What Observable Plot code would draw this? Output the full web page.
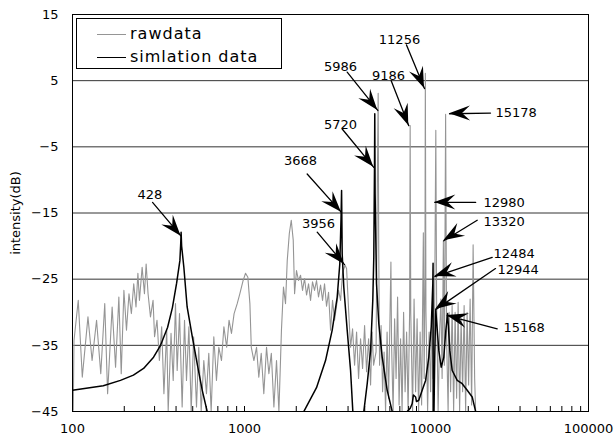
<!DOCTYPE html>
<html><head><meta charset="utf-8">
<script src="https://cdn.jsdelivr.net/npm/d3@7"></script>
<script src="https://cdn.jsdelivr.net/npm/@observablehq/plot@0.6"></script>
<style>
body{margin:0;background:#fff;font-family:"DejaVu Sans",sans-serif;}
#wrap{position:relative;width:615px;height:440px;}
#legend{position:absolute;left:76px;top:18px;width:204px;height:49px;border:1px solid #000;background:#fff;font-size:16px;letter-spacing:1px;}
.row{position:absolute;left:0;height:20px;width:100%;}
.sw{position:absolute;left:20px;width:29px;top:10px;height:0;border-top:1px solid;}
.lab{position:absolute;left:53px;top:-1px;line-height:22px;}
</style></head>
<body><div id="wrap"></div>
<script>
// raw measurement (Hz, dB)
const rawFreq = [101,102,108,114,123,130,138,146,154,160,170,178,186,192,199,206,213,220,227,234,240,245,254,262,268,275,284,294,300,310,320,330,340,353,360,374,385,397,406,419,434,448,460,475,490,506,526,542,560,580,601,620,640,663,687,709,735,759,788,813,840,870,907,940,982,1014,1046,1075,1095,1134,1175,1211,1251,1295,1343,1386,1432,1482,1535,1585,1640,1685,1732,1772,1822,1870,1920,1955,2006,2060,2117,2175,2234,2295,2357,2421,2486,2554,2623,2694,2768,2843,2920,2999,3081,3165,3250,3339,3430,3523,3619,3717,3843,3922,4030,4137,4249,4365,4484,4605,4730,4859,4991,5126,5266,5408,5519,5630,5820,5900,5986,6030,6100,6225,6351,6480,6611,6745,6882,7020,7100,7165,7310,7460,7610,7764,7920,8082,8245,8414,8585,8760,8937,9120,9186,9260,9492,9680,9881,10080,10285,10495,10710,10960,11080,11200,11256,11350,11604,11840,12080,12275,12490,12745,12950,13090,13355,13630,13870,14090,14330,14520,14767,14965,15270,15480,15789,16110,16440,16770,17110,17460,17810,18170,18543,18920,19303,19690,20090,20500,20920,21340,21780,22070];
const rawDb = [-44.8,-34.3,-28.2,-39.8,-30.7,-37.3,-31.2,-39.3,-28.7,-42.3,-29.2,-38.3,-27.7,-39.3,-26.7,-32.7,-27.2,-30.2,-25.7,-29.2,-24.1,-28.2,-23.2,-27.2,-22.7,-27.2,-30.7,-28.2,-33.7,-31.2,-37.3,-32.2,-42.3,-32.7,-45,-33.2,-40.3,-28.7,-38.8,-30.2,-44.3,-31.2,-40.3,-32.2,-45,-33.7,-44.3,-35.3,-45,-37.3,-42.3,-36.2,-45,-33.7,-40.3,-35.3,-37.3,-32.2,-35.3,-31.2,-33.2,-30.2,-28.7,-27.2,-25.2,-24.1,-24.7,-28.7,-35.3,-37.3,-35.3,-39.8,-36.2,-42.3,-35.3,-39.3,-36.2,-44.3,-37.3,-45,-32.7,-26.2,-28.7,-22.2,-18.1,-16.1,-19.1,-27.2,-23.7,-25.2,-24.4,-26.7,-24.9,-27.4,-25.7,-28.2,-25.4,-26.7,-25.2,-27.7,-25.9,-28.2,-25.7,-29.1,-27.0,-32.7,-28.2,-31.2,-29.0,-26.7,-28.2,-24,-22.9,-23.4,-29.7,-35.3,-32.5,-38,-33,-40,-34,-38.5,-32,-39,-34,-41,-33,-38,-36,-15,3.1,-20,-38,-32,-42,-36,-45,-33,-43,-30,-22.4,-35,-45,-31,-40,-27.7,-44,-34,-45,-30,-42,-33,-45,-30,-1.8,-30,-45,-28,-42,-31,-45,-33,-44,-18,-40,-25,6.1,-30,-45,-33,-42,-30,-40,-30,-2.5,-28,-45,-33,-28,-40,-19.2,-38,-0.1,-34,-45,-30,-42,-29,-45,-30,-43,-28.5,-45,-31,-42,-29,-45,-30,-41,-28,-44,-19.8,-40,-45];
// simulation (Hz, dB); null = break below the axis
const simFreq = [100,151,190,226,259,296,325,357,381,403,421,426,428,431,444,464,497,531,568,607,650,null,2213,2622,2959,3235,3459,3581,3640,3668,3698,3778,3954,4137,4264,null,4940,5170,5408,5570,5645,5700,5720,5745,5855,6036,6318,6756,7224,null,8830,9200,9440,9600,9881,10000,10310,10790,11297,11790,12180,12440,12484,12500,12640,12780,12944,13480,13920,14410,14800,15168,15620,16130,17250,18440,19720,21080,22070];
const simDb = [-41.8,-41.1,-40.3,-39.5,-38.5,-36.8,-35,-32.3,-29.3,-25.6,-22.2,-19.5,-17.9,-20,-23.2,-29.2,-33.7,-37.8,-41.8,-45,-48,null,-45,-41.4,-37.3,-32.7,-27.7,-22.7,-16,-11.6,-21.2,-26.2,-32.7,-38.8,-45,null,-45,-40.8,-35.8,-28.2,-21.7,-8,0,-12,-25.7,-31.7,-36.8,-41.8,-45,null,-45,-44.5,-43.8,-42.5,-42.8,-43.5,-43.3,-41.8,-40.3,-36.8,-32.2,-25.7,-22.6,-50,-45,-36,-29.7,-35.8,-38.3,-36.8,-32.8,-30.2,-35.8,-38.8,-40.3,-40.8,-41.8,-42.8,-45];
// annotations
const annLabel  = ["428","3668","3956","5720","5986","9186","11256","15178","12980","13320","12484","12944","15168"];
const annTextF  = [282,2117,2693,3619,3619,6875,7965,28790,24520,24520,28030,29580,32040];
const annTextDb = [-12.3,-7.1,-16.6,-1.6,7.1,5.8,11.2,0.1,-13.4,-16.3,-21.2,-23.6,-32.4];
const annTailF  = [292,2314,2647,3698,3954,7127,8746,26930,22070,22540,27550,28790,29460];
const annTailDb = [-13.4,-9.1,-17.9,-2.3,6.3,5.0,10.4,0.1,-13.4,-16.1,-21.7,-23.4,-32.5];
const annTipF   = [428,3660,3814,5645,5957,9020,11130,15560,12780,14410,12780,12916,15080];
const annTipDb  = [-18.5,-14.9,-22.8,-8.1,0.5,-1.8,3.8,0.0,-13.4,-19.2,-24.6,-29.6,-30.5];
const annSide   = ["middle","middle","middle","middle","middle","middle","middle","start","start","start","start","start","start"];
const yTicks = [-45,-35,-25,-15,-5,5,15];
const gridVals = [-35,-25,-15,-5,5];
const xMajor = [100,1000,100000];
const xMajorShifted = [10000];
const xMinor = [200,300,400,500,600,700,800,900,1000,2000,3000,4000,5000,6000,7000,8000,9000,10000,20000,30000,40000,50000,60000,70000,80000,90000];

const raw = rawFreq.map((f,i)=>({f, db: rawDb[i]}));
const sim = simFreq.map((f,i)=>({f, db: simDb[i]}));
const ann = annLabel.map((t,i)=>({t, tf: annTextF[i], tdb: annTextDb[i], af: annTailF[i], adb: annTailDb[i], bf: annTipF[i], bdb: annTipDb[i], side: annSide[i]}));

function heads(index, scales) {
  const g = d3.create("svg:g");
  for (const a of ann) {
    const x1 = scales.x(a.af), y1 = scales.y(a.adb), x2 = scales.x(a.bf), y2 = scales.y(a.bdb);
    const ang = Math.atan2(y2 - y1, x2 - x1), ux = Math.cos(ang), uy = Math.sin(ang), nx = -uy, ny = ux;
    const L = 21, W = 7.5, N = 0.62;
    const p = [[x2, y2],[x2 - L*ux + W*nx, y2 - L*uy + W*ny],[x2 - N*L*ux, y2 - N*L*uy],[x2 - L*ux - W*nx, y2 - L*uy - W*ny]];
    g.append("path").attr("d", "M" + p.map(q => q.join(",")).join("L") + "Z").attr("fill", "#000");
  }
  return g.node();
}

const chart = Plot.plot({
  width: 615, height: 440,
  marginLeft: 72, marginRight: 27, marginTop: 14, marginBottom: 29,
  style: {fontFamily: '"DejaVu Sans",sans-serif', fontSize: "13px", color: "#000", background: "#fff"},
  x: {type: "log", domain: [100, 100000]},
  y: {domain: [-45, 15]},
  marks: [
    Plot.ruleY(gridVals, {stroke: "#333", strokeWidth: 1}),
    Plot.line(raw, {x: "f", y: "db", stroke: "#959595", strokeWidth: 1.1, clip: true}),
    Plot.line(sim, {x: "f", y: "db", stroke: "#000", strokeWidth: 1.5, clip: true}),
    Plot.frame({stroke: "#000"}),
    Plot.axisY({ticks: yTicks, tickSize: 0, tickPadding: 14, fontSize: 13, label: "intensity(dB)", labelAnchor: "center", labelOffset: 62, labelArrow: "none"}),
    Plot.axisX({ticks: xMinor, tickSize: -5, tickFormat: () => "", label: null}),
    Plot.axisX({ticks: xMajor, tickSize: 0, tickPadding: 12, fontSize: 13, tickFormat: d => String(d), label: null}),
    Plot.axisX({ticks: xMajorShifted, tickSize: 0, tickPadding: 12, fontSize: 13, dx: 14, tickFormat: d => String(d), label: null}),
    Plot.arrow(ann, {x1: "af", y1: "adb", x2: "bf", y2: "bdb", stroke: "#000", strokeWidth: 1.3, headLength: 0, bend: 0}),
    heads,
    Plot.text(ann.filter(a => a.side === "middle"), {x: "tf", y: "tdb", text: "t", fontSize: 13, fill: "#000", textAnchor: "middle"}),
    Plot.text(ann.filter(a => a.side === "start"), {x: "tf", y: "tdb", text: "t", fontSize: 13, fill: "#000", textAnchor: "start"})
  ]
});
const wrap = document.getElementById("wrap");
wrap.appendChild(chart);
const lg = document.createElement("div");
lg.id = "legend";
lg.innerHTML = '<div class="row" style="top:5px"><div class="sw" style="border-color:#959595"></div><div class="lab">rawdata</div></div>' +
               '<div class="row" style="top:28px"><div class="sw" style="border-color:#000"></div><div class="lab">simlation data</div></div>';
wrap.appendChild(lg);
</script></body></html>
